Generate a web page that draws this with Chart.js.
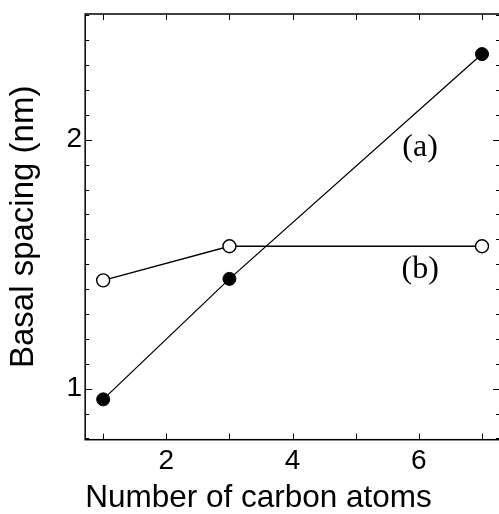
<!DOCTYPE html>
<html>
<head>
<meta charset="utf-8">
<script src="https://cdn.jsdelivr.net/npm/chart.js@4"></script>
<style>
  html, body { margin: 0; padding: 0; background: #fff; overflow: hidden; }
  #cadre { width: 500px; height: 514px; }
</style>
</head>
<body>
<div id="cadre"><canvas id="graphique" width="500" height="514"></canvas></div>
<script>
// Nombre d'atomes de carbone et espacement basal (nm)
const carbones = [1, 3, 7];
const espacementA = [0.957, 1.441, 2.344];   // (a) points pleins
const espacementB = [1.435, 1.572, 1.572];   // (b) cercles vides

// graduations (tirets) et étiquettes affichées
const tiretsX = [1, 2, 3, 4, 5, 6, 7];
const tiretsY = [0.8, 0.9, 1.0, 1.1, 1.2, 1.3, 1.4, 1.5, 1.6, 1.7, 1.8, 1.9, 2.0, 2.1, 2.2, 2.3, 2.4, 2.5];
const etiquettesX = [2, 4, 6];
const etiquettesY = [1, 2];

const annotations = [
  { texte: "(a)", x: 6.02, y: 1.968 },
  { texte: "(b)", x: 6.02, y: 1.478 }
];

const policeSans = "'Liberation Sans', Arial, Helvetica, sans-serif";
const policeSerif = "'Liberation Serif', 'Times New Roman', serif";

const proche = (v, liste) => liste.some(e => Math.abs(v - e) < 1e-6);
const estEntier = v => Math.abs(v - Math.round(v)) < 1e-6;

// cadre complet + tirets vers l'intérieur (haut, bas, gauche, droite)
const cadreEtTirets = {
  id: "cadreEtTirets",
  beforeDatasetsDraw(chart) {
    const { ctx, chartArea: a, scales: { x, y } } = chart;
    ctx.save();
    ctx.strokeStyle = "#000";
    ctx.lineWidth = 1.5;
    ctx.strokeRect(a.left, a.top, a.right - a.left, a.bottom - a.top);
    ctx.lineWidth = 1;
    ctx.beginPath();
    x.ticks.forEach(t => {
      const px = Math.round(x.getPixelForValue(t.value)) + 0.5;
      ctx.moveTo(px, a.bottom); ctx.lineTo(px, a.bottom - 6);
      ctx.moveTo(px, a.top); ctx.lineTo(px, a.top + 6);
    });
    y.ticks.forEach(t => {
      const py = Math.round(y.getPixelForValue(t.value)) + 0.5;
      const long = estEntier(t.value) ? 7 : 4;
      ctx.moveTo(a.left, py); ctx.lineTo(a.left + long, py);
      ctx.moveTo(a.right, py); ctx.lineTo(a.right - long, py);
    });
    ctx.stroke();
    ctx.restore();
  },
  afterDatasetsDraw(chart) {
    const { ctx, scales: { x, y } } = chart;
    ctx.save();
    ctx.fillStyle = "#000";
    ctx.font = "32px " + policeSerif;
    ctx.textAlign = "center";
    ctx.textBaseline = "middle";
    annotations.forEach(n => {
      ctx.fillText(n.texte, x.getPixelForValue(n.x), y.getPixelForValue(n.y));
    });
    ctx.restore();
  }
};

new Chart(document.getElementById("graphique"), {
  type: "scatter",
  data: {
    datasets: [
      {
        data: carbones.map((c, i) => ({ x: c, y: espacementA[i] })),
        showLine: true,
        borderColor: "#000",
        borderWidth: 1.3,
        pointRadius: 6.5,
        pointBackgroundColor: "#000",
        pointBorderColor: "#000",
        pointBorderWidth: 1
      },
      {
        data: carbones.map((c, i) => ({ x: c, y: espacementB[i] })),
        showLine: true,
        borderColor: "#000",
        borderWidth: 1.3,
        pointRadius: 6.5,
        pointBackgroundColor: "#fff",
        pointBorderColor: "#000",
        pointBorderWidth: 1.4
      }
    ]
  },
  options: {
    responsive: false,
    animation: false,
    layout: { autoPadding: false, padding: { top: 14, right: 0, left: 4, bottom: 0 } },
    plugins: {
      legend: { display: false },
      tooltip: { enabled: false }
    },
    scales: {
      x: {
        type: "linear",
        min: 0.715,
        max: 7.285,
        afterBuildTicks: s => { s.ticks = tiretsX.map(v => ({ value: v })); },
        afterFit: s => { s.paddingLeft = 0; s.paddingRight = 0; },
        grid: { display: false, drawTicks: false },
        border: { display: false },
        ticks: {
          autoSkip: false,
          maxRotation: 0,
          padding: 6,
          color: "#000",
          font: { family: policeSans, size: 28, lineHeight: 1.1 },
          callback: v => proche(v, etiquettesX) ? String(Math.round(v)) : ""
        },
        title: {
          display: true,
          text: "Number of carbon atoms",
          align: "start",
          color: "#000",
          font: { family: policeSans, size: 31.5, lineHeight: 1 },
          padding: { top: 0, bottom: 0 }
        }
      },
      y: {
        type: "linear",
        min: 0.795,
        max: 2.505,
        afterBuildTicks: s => { s.ticks = tiretsY.map(v => ({ value: v })); },
        afterFit: s => { s.paddingTop = 0; s.paddingBottom = 0; },
        grid: { display: false, drawTicks: false },
        border: { display: false },
        ticks: {
          autoSkip: false,
          padding: 3,
          color: "#000",
          font: { family: policeSans, size: 28 },
          callback: v => proche(v, etiquettesY) ? String(Math.round(v)) : ""
        },
        title: {
          display: true,
          text: "Basal spacing (nm)",
          color: "#000",
          font: { family: policeSans, size: 33 },
          padding: { top: 0, bottom: 20 }
        }
      }
    }
  },
  plugins: [cadreEtTirets]
});
</script>
</body>
</html>
